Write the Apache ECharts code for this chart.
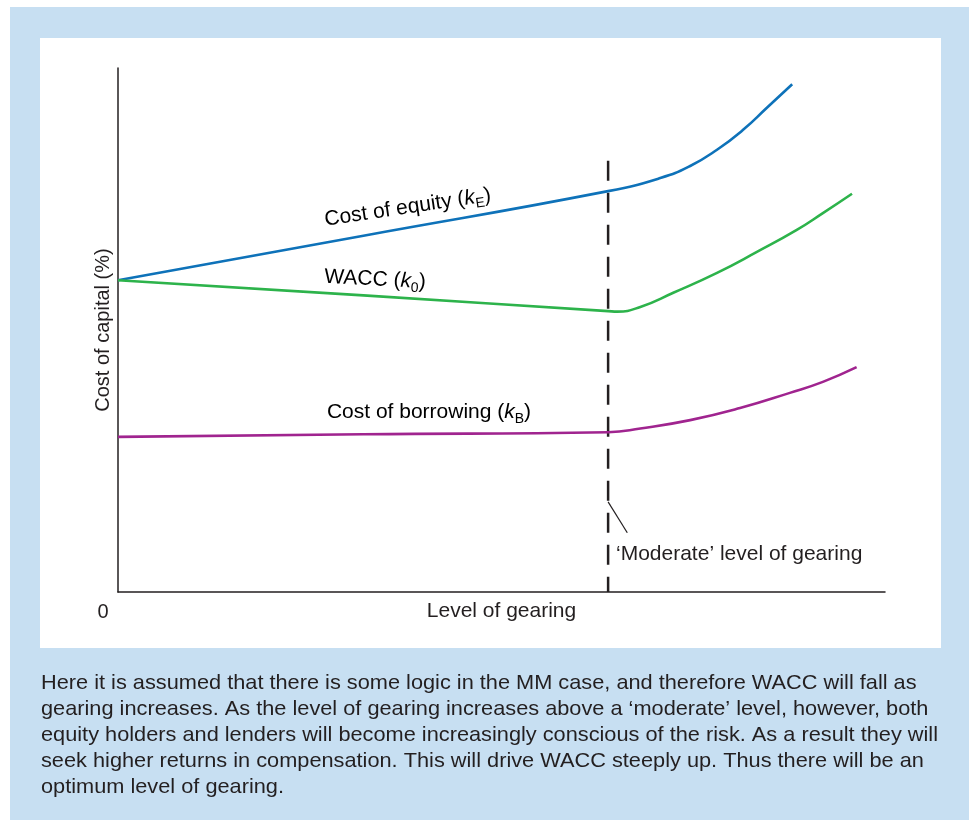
<!DOCTYPE html>
<html><head><meta charset="utf-8">
<script src="https://cdn.jsdelivr.net/npm/echarts@6/dist/echarts.min.js"></script>
<style>html,body{margin:0;padding:0;background:#fff}#c{width:969px;height:820px}</style>
</head><body><div id="c"></div>
<script>
// ---- data (x: level of gearing 0-100, y: cost of capital 0-100) ----
const gearingEquity = [0, 32, 63.9, 70.7, 74.6, 78.1, 81.5, 84.6, 87.9];
const costEquity    = [59.5, 68.0, 76.5, 79.0, 81.3, 84.4, 88.2, 92.4, 96.9];
const gearingWacc   = [0, 32, 63.9, 65.1, 68.1, 72.4, 78.1, 83.3, 88.5, 91.9, 95.7];
const costWacc      = [59.5, 56.6, 53.6, 53.5, 54.4, 57.1, 60.9, 64.9, 69.1, 72.3, 76.0];
const gearingBorrow = [0, 32, 63.9, 68.1, 74.6, 81.1, 87.6, 91.9, 96.3];
const costBorrow    = [29.6, 30.1, 30.5, 31.2, 32.8, 35.1, 38.0, 40.1, 42.9];
const moderateGearing = [63.9, 63.9];
const moderateLineY   = [82.3, 0];
const leaderX = [63.9, 66.4];
const leaderY = [17.2, 11.3];
const captionLines = [
  "Here it is assumed that there is some logic in the MM case, and therefore WACC will fall as",
  "gearing increases. As the level of gearing increases above a \u2018moderate\u2019 level, however, both",
  "equity holders and lenders will become increasingly conscious of the risk. As a result they will",
  "seek higher returns in compensation. This will drive WACC steeply up. Thus there will be an",
  "optimum level of gearing."
];

const pairs = (xs, ys) => xs.map((x, i) => [x, ys[i]]);
const FONT = '"Liberation Sans", Arial, Helvetica, sans-serif';
const INK = '#231f20';

// caption horizontal scale to match the condensed face of the original
const cv = document.createElement('canvas').getContext('2d');
cv.font = '21px "Liberation Sans"';
const capScale = 897 / cv.measureText(captionLines[2]).width;

const rich = {
  m: {fontSize: 21, fontFamily: FONT, color: INK, lineHeight: 24, verticalAlign: 'top'},
  k: {fontSize: 21, fontFamily: FONT, color: INK, fontStyle: 'italic', lineHeight: 24, verticalAlign: 'top'},
  s: {fontSize: 14, fontFamily: FONT, color: INK, lineHeight: 14, verticalAlign: 'bottom'}
};
function curveLabel(x, y, rotDeg, main, sub) {
  return {
    type: 'text', x: x, y: y, rotation: rotDeg * Math.PI / 180, z: 20,
    style: {
      text: '{m|' + main + ' (}{k|k}{s|' + sub + '}{m|)}',
      rich: rich, align: 'center', verticalAlign: 'middle'
    }
  };
}

const graphic = [
  {type: 'rect', shape: {x: 10, y: 7, width: 959, height: 813}, style: {fill: '#c7dff2'}, z: -10, silent: true},
  {type: 'rect', shape: {x: 40, y: 38, width: 901, height: 610}, style: {fill: '#ffffff'}, z: -9, silent: true},
  {type: 'text', x: 103, y: 612, z: 20, style: {text: '0', font: '20px ' + FONT, fill: INK, align: 'center', verticalAlign: 'middle'}},
  {type: 'text', x: 616, y: 554, z: 20, style: {text: '\u2018Moderate\u2019 level of gearing', font: '21px ' + FONT, fill: INK, align: 'left', verticalAlign: 'middle'}},
  curveLabel(408, 209, 8.5, 'Cost of equity', 'E'),
  curveLabel(375, 281, -3, 'WACC', '0'),
  curveLabel(429, 414, 0, 'Cost of borrowing', 'B')
];
captionLines.forEach((t, i) => {
  graphic.push({type: 'text', x: 41, y: 683 + i * 26, scaleX: capScale, z: 20,
    style: {text: t, font: '21px ' + FONT, fill: INK, align: 'left', verticalAlign: 'middle'}});
});

const chart = echarts.init(document.getElementById('c'), null, {renderer: 'canvas'});
chart.setOption({
  animation: false,
  backgroundColor: '#ffffff',
  textStyle: {fontFamily: FONT},
  grid: {left: 118, top: 68, right: 84, bottom: 228, containLabel: false},
  xAxis: {
    type: 'value', min: 0, max: 100,
    name: 'Level of gearing', nameLocation: 'middle', nameGap: 9,
    nameTextStyle: {fontSize: 21, color: INK, fontFamily: FONT},
    axisLine: {show: true, lineStyle: {color: INK, width: 1.5}},
    axisTick: {show: false}, axisLabel: {show: false}, splitLine: {show: false}
  },
  yAxis: {
    type: 'value', min: 0, max: 100,
    name: 'Cost of capital (%)', nameLocation: 'middle', nameGap: 5, nameRotate: 90,
    nameTextStyle: {fontSize: 20, color: INK, fontFamily: FONT},
    axisLine: {show: true, lineStyle: {color: INK, width: 1.5}},
    axisTick: {show: false}, axisLabel: {show: false}, splitLine: {show: false}
  },
  graphic: graphic,
  series: [
    {type: 'line', name: 'Moderate', data: pairs(moderateGearing, moderateLineY), showSymbol: false, z: 3,
     lineStyle: {color: INK, width: 2.5, type: [20, 12]}},
    {type: 'line', name: 'Leader', data: pairs(leaderX, leaderY), showSymbol: false, z: 3,
     lineStyle: {color: INK, width: 1.2}},
    {type: 'line', name: 'Cost of equity', data: pairs(gearingEquity, costEquity), showSymbol: false, smooth: 0.5, z: 4,
     lineStyle: {color: '#0e72b9', width: 2.6}},
    {type: 'line', name: 'WACC', data: pairs(gearingWacc, costWacc), showSymbol: false, smooth: 0.5, z: 4,
     lineStyle: {color: '#2db34b', width: 2.6}},
    {type: 'line', name: 'Cost of borrowing', data: pairs(gearingBorrow, costBorrow), showSymbol: false, smooth: 0.5, z: 4,
     lineStyle: {color: '#a0248f', width: 2.6}}
  ]
});
</script></body></html>
